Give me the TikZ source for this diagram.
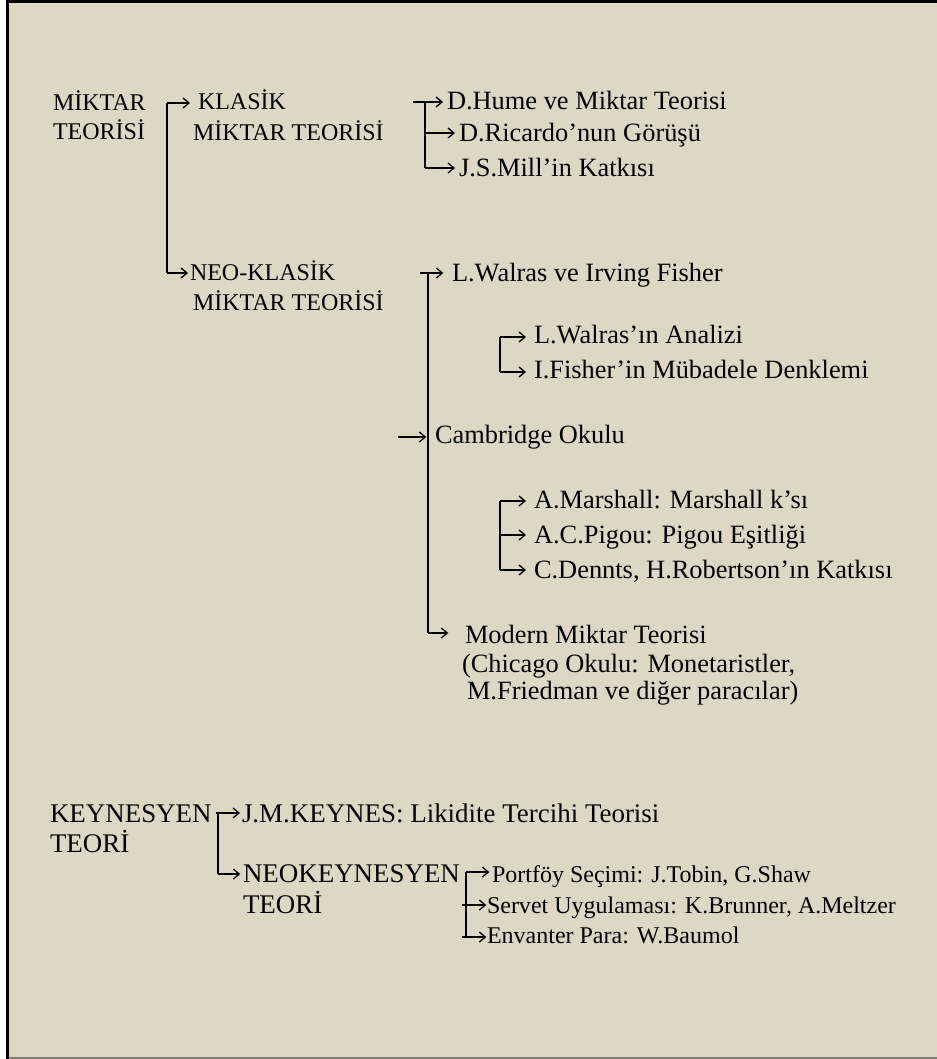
\documentclass[tikz,border=0pt]{standalone}
\usepackage{fontspec}
\setmainfont{Liberation Serif}
\usetikzlibrary{arrows.meta}
\definecolor{paper}{RGB}{221,216,195}
\definecolor{edgegray}{RGB}{128,126,114}
\tikzset{
  lbl/.style={anchor=base west, inner sep=0pt, outer sep=0pt, font=\fontsize{19.8}{22}\selectfont},
  caplbl/.style={lbl, font=\fontsize{18}{22}\selectfont},
  keylbl/.style={lbl, font=\fontsize{20.2}{24}\selectfont},
  keysub/.style={lbl, font=\fontsize{18}{22}\selectfont},
  trunk/.style={line width=1.4pt},
  arr/.style={line width=1.1pt, -{Straight Barb[length=4.5pt,width=7.5pt,line width=1pt]}},
}
\begin{document}
\begin{tikzpicture}[x=0.75pt,y=-0.75pt]
\useasboundingbox (0,0) rectangle (937,1059);
% page and frame
\fill[white] (0,0) rectangle (937,1059);
\fill[paper] (7,0) rectangle (937,1059);
\draw[line width=2.2pt] (7.5,1059) -- (7.5,1.5) -- (937,1.5);
\draw[edgegray, line width=1.6pt] (9,1058) -- (937,1058);

% ---- quantity theory ----
\node[caplbl] (miktar1) at (53,111) {MİKTAR};
\node[caplbl] (miktar2) at (53,140) {TEORİSİ};

\node[caplbl] (klasik1) at (198,110) {KLASİK};
\node[caplbl] (klasik2) at (193,141) {MİKTAR TEORİSİ};

\node[lbl] (hume) at (447,110) {D.Hume ve Miktar Teorisi};
\node[lbl] (ricardo) at (459,142) {D.Ricardo’nun Görüşü};
\node[lbl] (mill) at (459,177) {J.S.Mill’in Katkısı};

\node[caplbl] (neoklasik1) at (190,280) {NEO-KLASİK};
\node[caplbl] (neoklasik2) at (193,310) {MİKTAR TEORİSİ};

\node[lbl] (walras) at (452,281) {L.Walras ve Irving Fisher};
\node[lbl] (walrasan) at (534,343) {L.Walras’ın Analizi};
\node[lbl] (fisher) at (534,378) {I.Fisher’in Mübadele Denklemi};

\node[lbl] (cambridge) at (435,443) {Cambridge Okulu};
\node[lbl] (marshall) at (534,508) {A.Marshall: Marshall k’sı};
\node[lbl] (pigou) at (534,543) {A.C.Pigou: Pigou Eşitliği};
\node[lbl] (dennts) at (534,578) {C.Dennts, H.Robertson’ın Katkısı};

\node[lbl] (modern) at (465,643) {Modern Miktar Teorisi};
\node[lbl] (chicago1) at (462,672) {(Chicago Okulu: Monetaristler,};
\node[lbl] (chicago2) at (467,699) {M.Friedman ve diğer paracılar)};

% main split
\coordinate (m0) at (167,103);
\coordinate (m1) at (167,273);
\draw[trunk] (m0) -- (m1);
\draw[arr, shorten >=6pt] (m0) -- (m0 -| klasik1.west);
\draw[arr, shorten >=1.5pt] (m1) -- (m1 -| neoklasik1.west);

% classical branch
\coordinate (k0s) at (413,102);
\coordinate (k0) at (425,102);
\coordinate (k1) at (425,133);
\coordinate (k2) at (425,168);
\draw[trunk] (k0) -- (k2);
\draw[arr, shorten >=3pt] (k0s) -- (k0s -| hume.west);
\draw[arr, shorten >=3pt] (k1) -- (k1 -| ricardo.west);
\draw[arr, shorten >=3pt] (k2) -- (k2 -| mill.west);

% neo-classical branch
\coordinate (n0s) at (420,273);
\coordinate (n0) at (428,273);
\coordinate (ncs) at (398,437);
\coordinate (n2) at (428,633);
\draw[trunk] (n0) -- (n2);
\draw[arr, shorten >=6.5pt] (n0s) -- (n0s -| walras.west);
\draw[arr, shorten >=6.5pt] (ncs) -- (ncs -| cambridge.west);
\draw[arr, shorten >=12.5pt] (n2) -- (n2 -| modern.west);

% Walras / Fisher
\coordinate (w0) at (500,337);
\coordinate (w1) at (500,372);
\draw[trunk] (w0) -- (w1);
\draw[arr, shorten >=6pt] (w0) -- (w0 -| walrasan.west);
\draw[arr, shorten >=6pt] (w1) -- (w1 -| fisher.west);

% Cambridge school
\coordinate (c0) at (500,501);
\coordinate (c1) at (500,535);
\coordinate (c2) at (500,570);
\draw[trunk] (c0) -- (c2);
\draw[arr, shorten >=6pt] (c0) -- (c0 -| marshall.west);
\draw[arr, shorten >=6pt] (c1) -- (c1 -| pigou.west);
\draw[arr, shorten >=6pt] (c2) -- (c2 -| dennts.west);

% ---- Keynesian theory ----
\node[keylbl] (keynes1) at (50,822) {KEYNESYEN};
\node[keylbl] (keynes2) at (50,852) {TEORİ};
\node[keylbl] (jmk) at (242,822) {J.M.KEYNES: Likidite Tercihi Teorisi};
\node[keylbl] (neokey1) at (243,882) {NEOKEYNESYEN};
\node[keylbl] (neokey2) at (243,913) {TEORİ};

\node[keysub] (portfoy) at (492,882) {Portföy Seçimi: J.Tobin, G.Shaw};
\node[keysub] (servet) at (487,913) {Servet Uygulaması: K.Brunner, A.Meltzer};
\node[keysub] (envanter) at (487,943) {Envanter Para: W.Baumol};

\coordinate (y0s) at (216,813);
\coordinate (y0) at (218,813);
\coordinate (y1) at (218,874);
\draw[trunk] (y0) -- (y1);
\draw[arr, shorten >=1.5pt] (y0s) -- (y0s -| jmk.west);
\draw[arr, shorten >=2pt] (y1) -- (y1 -| neokey1.west);

\coordinate (p0) at (466,872);
\coordinate (p1s) at (462,905);
\coordinate (p2s) at (462,937);
\coordinate (p2) at (466,937);
\draw[trunk] (p0) -- (p2);
\draw[arr, shorten >=2pt] (p0) -- (p0 -| portfoy.west);
\draw[arr, shorten >=0.5pt] (p1s) -- (p1s -| servet.west);
\draw[arr, shorten >=0.5pt] (p2s) -- (p2s -| envanter.west);
\end{tikzpicture}
\end{document}
